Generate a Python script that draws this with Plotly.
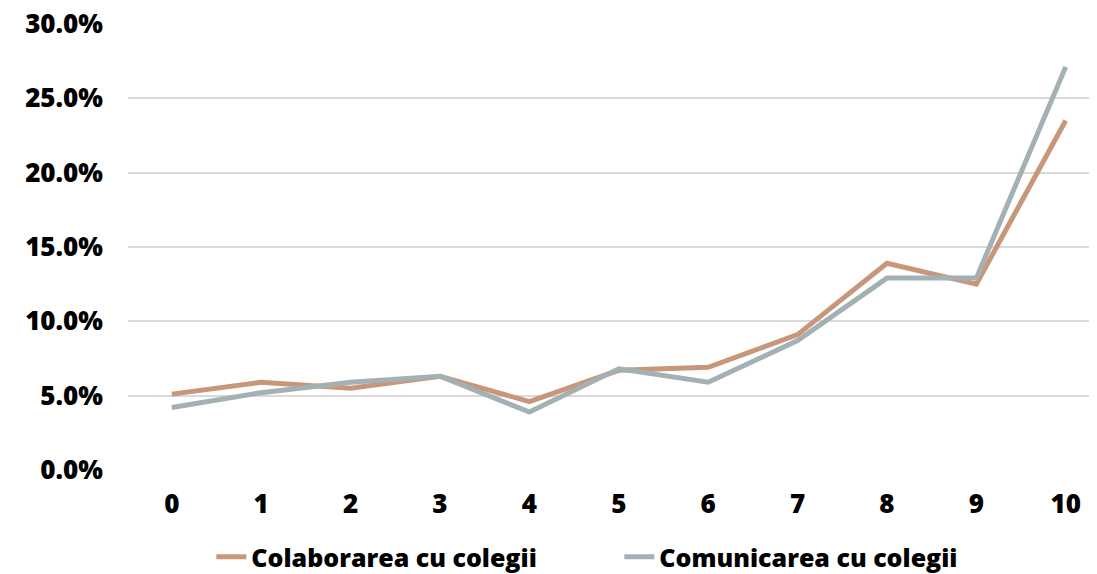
import plotly.graph_objects as go

categories = ["0", "1", "2", "3", "4", "5", "6", "7", "8", "9", "10"]
colaborarea = [5.1, 5.9, 5.5, 6.3, 4.6, 6.7, 6.9, 9.1, 13.9, 12.5, 23.5]
comunicarea = [4.2, 5.2, 5.9, 6.3, 3.9, 6.8, 5.9, 8.7, 12.9, 12.9, 27.1]
series_names = ["Colaborarea cu colegii", "Comunicarea cu colegii"]
y_ticks = [0, 5, 10, 15, 20, 25, 30]
y_tick_labels = ["0.0%", "5.0%", "10.0%", "15.0%", "20.0%", "25.0%", "30.0%"]

FONT = "Open Sans"
W = 800
fig = go.Figure()
fig.add_trace(go.Scatter(x=list(range(len(categories))), y=colaborarea, mode="lines",
                         name=series_names[0], line=dict(color="#C8977A", width=5)))
fig.add_trace(go.Scatter(x=list(range(len(categories))), y=comunicarea, mode="lines",
                         name=series_names[1], line=dict(color="#A3B1B5", width=5)))

fig.update_layout(
    width=1089, height=566,
    margin=dict(l=120, r=0, t=15, b=104, autoexpand=False),
    paper_bgcolor="white", plot_bgcolor="white",
    font=dict(family=FONT, color="black", size=24),
    showlegend=True,
    legend=dict(orientation="h", x=0.086, xref="paper", xanchor="left",
                yref="container", y=0.03, yanchor="middle",
                font=dict(family=FONT, size=25, color="black", weight=W),
                entrywidth=363, entrywidthmode="pixels", tracegroupgap=0),
    xaxis=dict(range=[-0.49, 10.35], tickmode="array",
               tickvals=list(range(len(categories))), ticktext=categories,
               showgrid=False, zeroline=False, showline=False, ticks="",
               tickfont=dict(family=FONT, size=26, color="black", weight=W),
               ticklabelstandoff=16, automargin=False),
    yaxis=dict(range=[0, 30.05], tickmode="array", tickvals=y_ticks, ticktext=y_tick_labels,
               showgrid=True, gridcolor="#D9D9D9", gridwidth=2, zeroline=False,
               showline=False, ticks="", ticklabeloverflow="allow",
               tickfont=dict(family=FONT, size=26, color="black", weight=W),
               ticklabelstandoff=24, automargin=False),
)

fig.write_html("out.html")
